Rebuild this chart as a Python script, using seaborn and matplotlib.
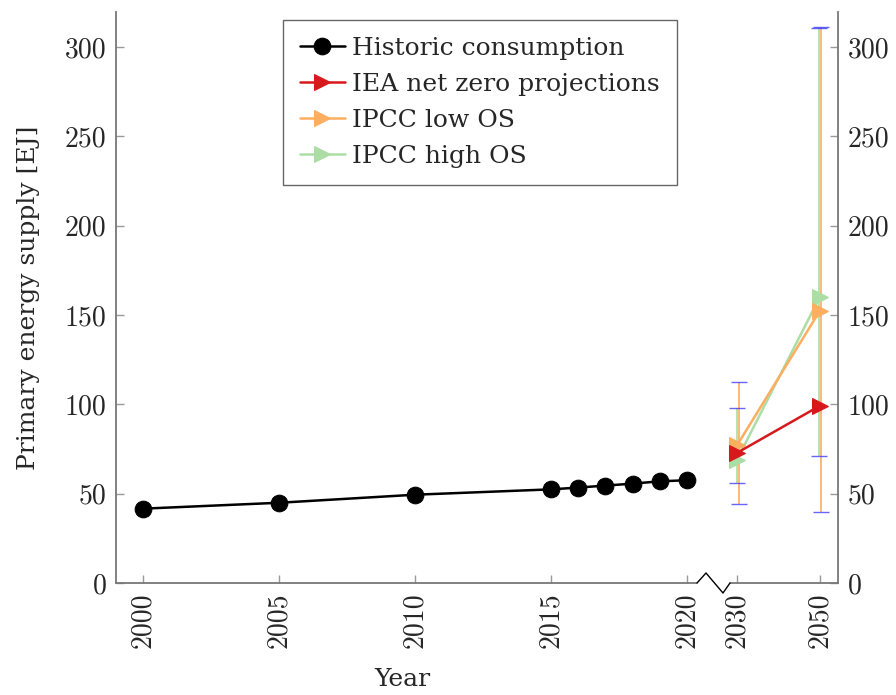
import numpy as np
import pandas as pd
import matplotlib
matplotlib.use("Agg")
import matplotlib.pyplot as plt
import matplotlib.transforms as mtransforms
import seaborn as sns

# ---- data ----
hist_years = [2000, 2005, 2010, 2015, 2016, 2017, 2018, 2019, 2020]
hist_values = [41.6, 44.9, 49.4, 52.4, 53.4, 54.5, 55.6, 56.9, 57.5]

proj_years = [2030, 2050]
iea_values = [72.8, 99.2]
low_os_values = [77.0, 152.4]
low_os_min = [44.0, 40.0]
low_os_max = [112.6, 311.3]
high_os_values = [69.0, 160.2]
high_os_min = [56.1, 70.9]
high_os_max = [97.7, 310.5]

tick_years = [2000, 2005, 2010, 2015, 2020, 2030, 2050]
y_ticks = [0, 50, 100, 150, 200, 250, 300]

# ---- style ----
sns.set_style("white")
plt.rcParams["font.family"] = ["cmr10", "DejaVu Serif"]
plt.rcParams["axes.formatter.use_mathtext"] = True

fig = plt.figure(figsize=(8.96, 6.95), dpi=100)
ax = fig.add_axes([116 / 896, 1 - 583 / 695, (838 - 116) / 896, (583 - 12) / 695])

# broken x axis: compress 2020-2030 and 2030-2050
brk_y = [1990, 2020, 2030, 2050, 2100]
brk_p = [1990, 2020, 2021.838, 2024.89, 2024.89 + 50 * (3.052 / 20)]


def fwd(x):
    return np.interp(x, brk_y, brk_p)


def inv(p):
    return np.interp(p, brk_p, brk_y)


ax.set_xscale("function", functions=(fwd, inv))

lw = 1.8
sns.lineplot(x=hist_years, y=hist_values, ax=ax, color="black", marker="o",
             markersize=12, markeredgecolor="black", linewidth=lw,
             label="Historic consumption", zorder=5)

red = "#d7191c"
orange = "#fdae61"
green = "#abdda4"
cap_blue = "#3333ff"

sns.lineplot(x=proj_years, y=iea_values, ax=ax, color=red, marker=">",
             markersize=12, markeredgecolor=red, linewidth=lw,
             label="IEA net zero projections", zorder=6)
sns.lineplot(x=proj_years, y=low_os_values, ax=ax, color=orange, marker=">",
             markersize=12, markeredgecolor=orange, linewidth=lw,
             label="IPCC low OS", zorder=5)
sns.lineplot(x=proj_years, y=high_os_values, ax=ax, color=green, marker=">",
             markersize=12, markeredgecolor=green, linewidth=lw,
             label="IPCC high OS", zorder=4)

for vals, lo, hi, col, dx in [(low_os_values, low_os_min, low_os_max, orange, 1.5),
                              (high_os_values, high_os_min, high_os_max, green, -0.5)]:
    v = np.array(vals)
    err = [v - np.array(lo), np.array(hi) - v]
    off = ax.transData + mtransforms.ScaledTranslation(dx / 100, 0, fig.dpi_scale_trans)
    _, caps, bars = ax.errorbar(proj_years, v, yerr=err, fmt="none", ecolor=col,
                                elinewidth=1.2, capsize=6, capthick=1.0, zorder=3,
                                transform=off)
    for c in caps:
        c.set_color(cap_blue)
        c.set_markeredgecolor(cap_blue)
        c.set_markerfacecolor(cap_blue)
        c.set_alpha(0.75)

ax.set_xlim(1999.0, 2054.34)
ax.set_ylim(0, 319.5)
ax.set_xticks(tick_years)
ax.set_xticklabels([str(t) for t in tick_years], rotation=90)
ax.set_yticks(y_ticks)
ax.set_yticklabels([str(t) for t in y_ticks])
ax.minorticks_off()

spine_col = "#777777"
for s in ["left", "right"]:
    ax.spines[s].set_color(spine_col)
    ax.spines[s].set_linewidth(1.3)
ax.spines["top"].set_visible(False)
ax.spines["bottom"].set_visible(False)


# bottom axis line with break zigzag (axes coordinates)
def ax_x(px):
    return (px - 116) / 722


def ax_y(py):
    return (583 - py) / 571


ax.plot([0, ax_x(697)], [0, 0], transform=ax.transAxes, color=spine_col,
        lw=1.3, clip_on=False, zorder=10)
ax.plot([ax_x(730), 1], [0, 0], transform=ax.transAxes, color=spine_col,
        lw=1.3, clip_on=False, zorder=10)
ax.plot([ax_x(697), ax_x(706), ax_x(723), ax_x(730)],
        [0, ax_y(573), ax_y(593), 0],
        transform=ax.transAxes, color="black", lw=1.0, clip_on=False, zorder=11)

ax.tick_params(axis="both", direction="in", length=6, width=1.0, color="#999999",
               labelsize=20, pad=7)
ax.tick_params(axis="y", left=True, right=True, labelleft=True, labelright=True)
ax.tick_params(axis="x", bottom=True, top=False)

label_font = {"family": ["DejaVu Serif"], "size": 18}
ax.set_ylabel("Primary energy supply [EJ]", fontdict=label_font)
ax.yaxis.set_label_coords(-(116 - 29) / 722, 0.5)
ax.set_xlabel("Year", fontdict=label_font)
ax.xaxis.set_label_coords((402 - 116) / 722, -(680 - 583) / 571)
ax.xaxis.label.set_va("center")
ax.yaxis.label.set_va("center")

leg = ax.legend(loc="upper center", bbox_to_anchor=((480 - 116) / 722, 1 - 8 / 571),
                frameon=True, fancybox=False, edgecolor="#666666", framealpha=1,
                handlelength=1.8, handletextpad=0.3, borderpad=0.68,
                labelspacing=0.52, borderaxespad=0,
                prop={"family": ["DejaVu Serif"], "size": 18})
leg.get_frame().set_linewidth(1.0)

fig.savefig("out.png", dpi=100)
